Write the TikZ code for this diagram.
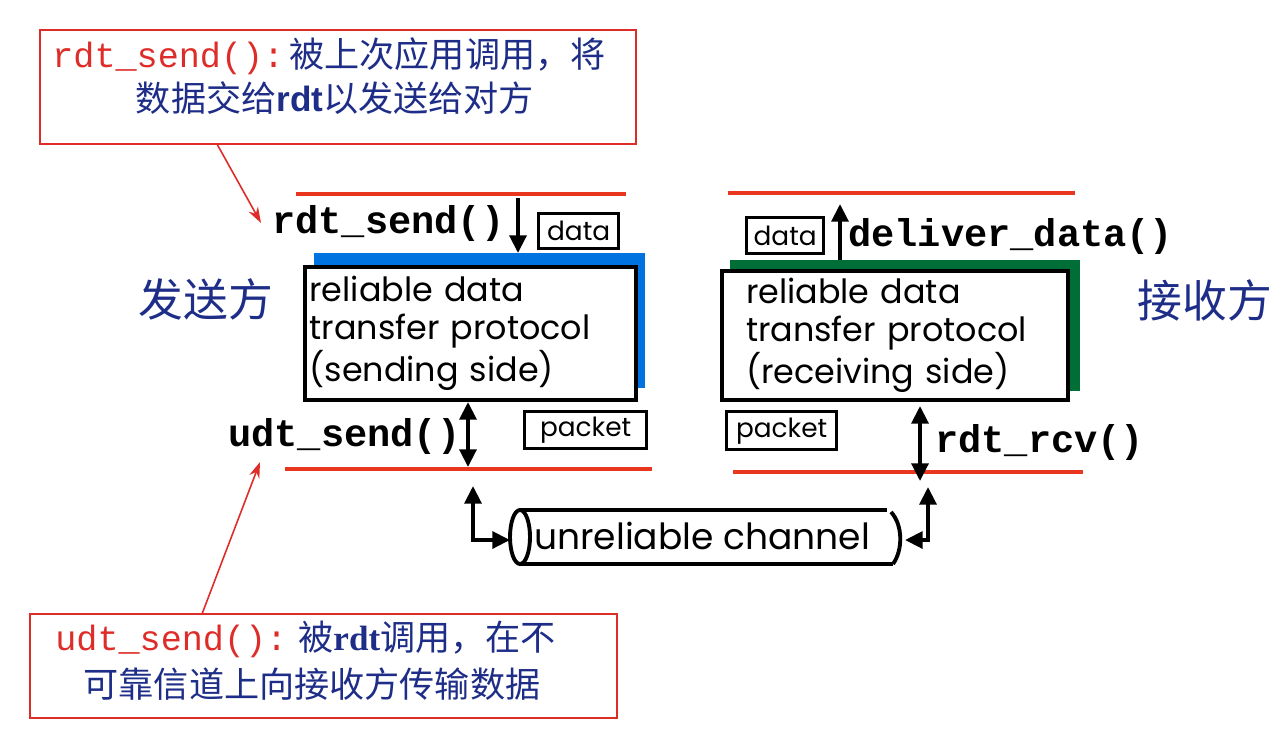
\documentclass[tikz,border=0pt]{standalone}
\usepackage{fontspec}
\usetikzlibrary{arrows.meta}
\setmainfont{Liberation Serif}
\newfontfamily\cjk{Noto Sans CJK SC}
\newfontfamily\gothic{Poppins}
\newfontfamily\mono{Liberation Mono}
\newfontfamily\serifrm{Liberation Serif}
\definecolor{callred}{RGB}{222,45,40}
\definecolor{linered}{RGB}{232,55,30}
\definecolor{navy}{RGB}{30,45,135}
\definecolor{sendblue}{RGB}{0,115,225}
\definecolor{rcvgreen}{RGB}{0,110,55}
\begin{document}
\begin{tikzpicture}[x=0.02cm,y=-0.02cm,
  callout/.style={draw=callred, line width=1.3pt, fill=white},
  chanline/.style={draw=linered, line width=2.3pt},
  fn/.style={font=\mono\bfseries\fontsize{22}{25}\selectfont, inner sep=0pt},
  tag/.style={draw, line width=1.9pt, font=\gothic\fontsize{15}{17}\selectfont, inner xsep=3pt, inner ysep=2pt},
  proto/.style={draw, line width=2.3pt, fill=white, align=left, inner ysep=2pt, font=\gothic\fontsize{19}{21.6}\selectfont},
  side/.style={font=\cjk\fontsize{25.5}{30}\selectfont, text=navy, inner sep=0pt},
  bigarrow/.style={line width=2.2pt, -{Triangle[length=10pt,width=9.5pt]}},
  dblarrow/.style={line width=2.2pt, {Triangle[length=10pt,width=9.5pt]}-{Triangle[length=10pt,width=9.5pt]}},
  pointer/.style={draw=callred, line width=0.9pt, -{Stealth[length=9pt,width=6pt]}},
  ctext/.style={font=\cjk\fontsize{20}{24}\selectfont, text=navy, inner sep=0pt},
  rmono/.style={font=\mono\fontsize{20}{24}\selectfont, text=callred, inner sep=0pt},
]
\useasboundingbox[fill=white] (0,0) rectangle (1284,728);

% ---------- top callout ----------
\draw[callout] (40,30) rectangle (636,144);
\node[rmono, anchor=base west] (t1a) at (52,67) {rdt\_send():};
\node[ctext, anchor=base west] (t1b) at (289,67) {被上次应用调用，将};
\node[ctext, anchor=base] (t2) at (335,111) {数据交给{\fontspec{Liberation Sans}\bfseries rdt}以发送给对方};
\coordinate (tptr) at (217,144);
\coordinate (tptrend) at (261,223);

% ---------- bottom callout ----------
\draw[callout] (30,614) rectangle (617,718);
\node[rmono, anchor=base west] (b1a) at (55,650) {udt\_send():};
\node[ctext, anchor=base west] (b1b) at (298,650) {被{\serifrm\bfseries rdt}调用，在不};
\node[ctext, anchor=base] (b2) at (312,697) {可靠信道上向接收方传输数据};
\coordinate (bptr) at (202,614);
\coordinate (bptrend) at (260,462);

% ---------- side labels ----------
\node[side] (snd) at (206,299) {发送方};
\node[side] (rcv) at (1205,300) {接收方};

% ---------- sending side ----------
\draw[chanline] (296,194) -- (626,194);
\draw[chanline] (285,469) -- (652,469);
\fill[sendblue] (314,253) rectangle (645,388);
\node[proto, anchor=north west, minimum width=6.62cm, minimum height=2.66cm,
      text width=6.44cm, inner xsep=0.09cm] (sbox) at (303,265)
  {reliable data\\transfer protocol\\(sending side)};
\node[fn, anchor=base west] (rdtsend) at (272,233) {rdt\_send()};
\node[tag, anchor=north west, minimum width=1.6cm, minimum height=0.7cm] (sdata) at (537,212) {data};
\node[fn, anchor=base west] (udtsend) at (228,446) {udt\_send()};
\node[tag, anchor=north west, minimum width=2.44cm, minimum height=0.74cm] (spkt) at (523,410) {packet};
\coordinate (sdin) at (518,198);
\coordinate (sdout) at (518,253);
\coordinate (sudtbot) at (468,467);
\draw[bigarrow] (sdin) -- (sdout);
\draw[dblarrow] (sbox.south -| sudtbot) -- (sudtbot);
\draw[pointer] (tptr) -- (tptrend);

% ---------- receiving side ----------
\draw[chanline] (728,193) -- (1075,193);
\draw[chanline] (733,472) -- (1083,472);
\fill[rcvgreen] (730,260) rectangle (1080,391);
\node[proto, anchor=north west, minimum width=6.92cm, minimum height=2.58cm,
      text width=5.96cm, inner xsep=0.46cm] (rbox) at (720,269)
  {reliable data\\transfer protocol\\(receiving side)};
\node[tag, anchor=north west, minimum width=1.54cm, minimum height=0.72cm] (rdata) at (745,216) {data};
\node[fn, anchor=base west] (deliver) at (848,246) {deliver\_data()};
\node[tag, anchor=north west, minimum width=2.2cm, minimum height=0.76cm] (rpkt) at (725,410) {packet};
\node[fn, anchor=base west] (rdtrcv) at (935,452) {rdt\_rcv()};
\coordinate (rdfrom) at (840,260);
\coordinate (rdto) at (840,204);
\coordinate (rrtop) at (920,406);
\coordinate (rrbot) at (920,481);
\draw[bigarrow] (rdfrom) -- (rdto);
\draw[dblarrow] (rrtop) -- (rrbot);
\draw[pointer] (bptr) -- (bptrend);

% ---------- unreliable channel ----------
\node[font=\gothic\fontsize{20.5}{24}\selectfont, inner sep=0pt, anchor=west] (chan) at (534,536) {unreliable channel};
\coordinate (cyl) at (520,537);
\draw[line width=2.2pt] (cyl) ellipse [x radius=10, y radius=27];
\draw[line width=2.2pt] (520,510) -- (887,510);
\draw[line width=2.2pt] (520,564) -- (893,564);
\draw[line width=2.2pt] (891,512) .. controls (903,525) and (903,550) .. (893,564);
\coordinate (lup) at (473,486);
\coordinate (lin) at (510,540);
\coordinate (rup) at (928,487);
\coordinate (rin) at (905,540);
\draw[dblarrow] (lup) |- (lin);
\draw[dblarrow] (rup) |- (rin);
\end{tikzpicture}
\end{document}
